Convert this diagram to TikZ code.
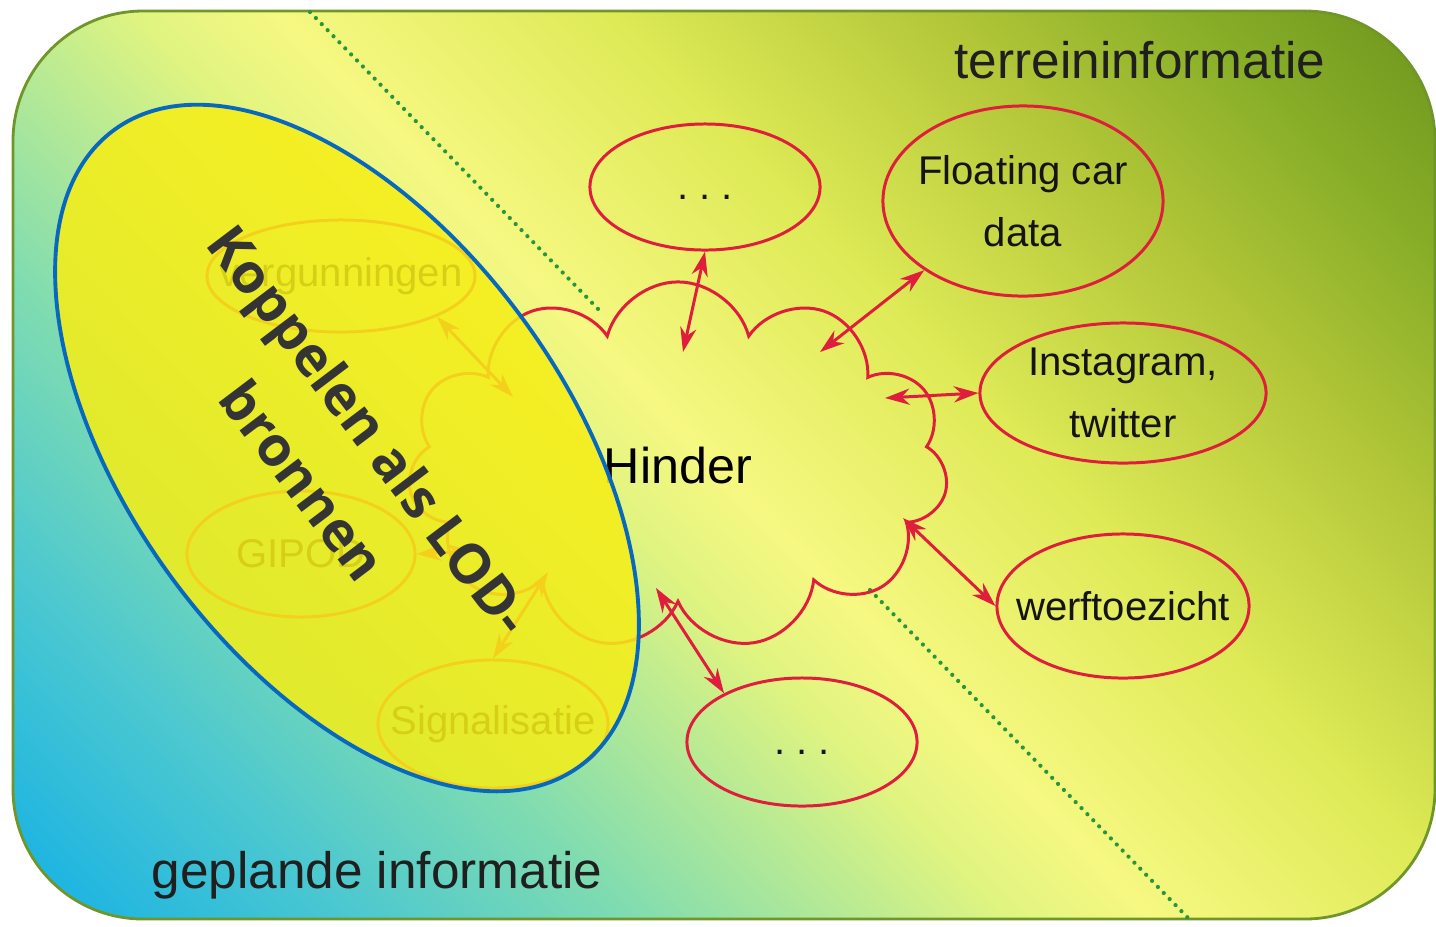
\documentclass[tikz,border=0pt]{standalone}
\usepackage{fontspec}
\setmainfont{Liberation Sans}
\newfontfamily\lodfont{Open Sans}
\usetikzlibrary{shapes.geometric,shapes.symbols,arrows.meta}

\definecolor{hinderred}{RGB}{222,30,60}
\definecolor{framegreen}{RGB}{112,150,42}
\definecolor{dotgreen}{RGB}{40,150,62}
\definecolor{lodyellow}{RGB}{246,238,22}
\definecolor{lodblue}{RGB}{8,104,190}
\definecolor{lodtext}{RGB}{52,52,52}
\definecolor{bgA}{RGB}{18,176,230}
\definecolor{bgB}{RGB}{76,200,208}
\definecolor{bgC}{RGB}{128,220,176}
\definecolor{bgD}{RGB}{224,244,128}
\definecolor{bgE}{RGB}{246,248,130}
\definecolor{bgF}{RGB}{222,234,86}
\definecolor{bgG}{RGB}{178,198,56}
\definecolor{bgH}{RGB}{136,174,40}
\definecolor{bgI}{RGB}{108,148,28}

\pgfdeclarehorizontalshading{bgfade}{100bp}{color(0bp)=(bgA); color(25.5bp)=(bgA); color(32.9bp)=(bgB); color(38.8bp)=(bgC); color(46.8bp)=(bgD); color(49.8bp)=(bgE); color(56.9bp)=(bgF); color(64bp)=(bgG); color(69.3bp)=(bgH); color(74.6bp)=(bgI); color(100bp)=(bgI)}

\tikzstyle{panel}=[draw=framegreen,line width=0.8pt,rounded corners=1.3cm]
\tikzstyle{divider}=[draw=dotgreen,line width=1.2pt,line cap=round,dash pattern=on 0pt off 2.4pt]
\tikzstyle{hindercloud}=[cloud,cloud puffs=11,aspect=1.45,draw=hinderred,line width=0.85pt,minimum width=5.4cm,minimum height=3.68cm,font=\fontsize{14.3}{17}\selectfont]
\tikzstyle{bron}=[ellipse,draw=hinderred,line width=0.85pt,inner xsep=-0.3cm,inner ysep=0pt,align=center,text=black!92,font=\fontsize{11.4}{17.6}\selectfont]
\tikzstyle{link}=[draw,line width=0.85pt,hinderred,{Stealth[length=7pt,width=4.6pt]}-{Stealth[length=7pt,width=4.6pt]}]
\tikzstyle{zone}=[anchor=base,text=black!88,font=\fontsize{14.6}{17}\selectfont]
\tikzstyle{lod}=[ellipse,draw=lodblue,line width=1.1pt,fill=lodyellow,fill opacity=0.86,minimum width=7.88cm,minimum height=4.36cm,rotate=-53.8]
\tikzstyle{lodlabel}=[rotate=-52.9,align=center,text=lodtext,font=\lodfont\bfseries\fontsize{15.6}{23.9}\selectfont]

\begin{document}
\begin{tikzpicture}[x=0.01cm,y=-0.01cm]
		\useasboundingbox (0,0) rectangle (1436,926);
		% background panel
		\begin{scope}
			\clip[rounded corners=1.3cm] (13,11) rectangle (1435,919);
			\begin{scope}[transform canvas={rotate around={44:(723,465)}}]
				\shade[shading=bgfade] (-121,-435) rectangle (1567,1365);
			\end{scope}
		\end{scope}
		\path[panel] (13,11) rectangle (1435,919);
		\path[divider] (310,12) -- (600,311);
		\path[divider] (870,590) -- (1190,920);
		% the cloud and its sources
		\node[hindercloud] (h) at (678,466) {Hinder};
		\node[bron,minimum width=2.30cm,minimum height=1.26cm] (dt) at (705,187) {.\ .\ .\strut};
		\node[bron,minimum width=2.80cm,minimum height=1.90cm] (fcd) at (1023,201) {Floating car\\data};
		\node[bron,minimum width=2.86cm,minimum height=1.40cm] (insta) at (1123,393) {Instagram,\\twitter};
		\node[bron,minimum width=2.52cm,minimum height=1.44cm] (werf) at (1123,606) {werftoezicht};
		\node[bron,minimum width=2.30cm,minimum height=1.28cm] (db) at (802,742) {.\ .\ .\strut};
		\node[bron,minimum width=2.68cm,minimum height=1.12cm] (verg) at (341,276) {vergunningen};
		\node[bron,minimum width=2.28cm,minimum height=1.26cm] (gipod) at (301,554) {GIPOD};
		\node[bron,minimum width=2.30cm,minimum height=1.28cm] (sign) at (493,724) {Signalisatie};
		% arrow ends inside the cloud
		\coordinate (h1) at (683,352);
		\coordinate (h2) at (820,352);
		\coordinate (h3) at (885,398);
		\coordinate (h4) at (903,518);
		\coordinate (h5) at (656,588);
		\coordinate (h6) at (513,397);
		\coordinate (h7) at (472,551);
		\coordinate (h8) at (548,572);
		\foreach \source/\dest in {h1/dt.south, h2/fcd.215, h3/insta.west, h4/werf.west, h5/db.148, h6/verg.-23, h7/gipod.east, h8/sign.north}
		\path[link] (\source) -- (\dest);
		% zone titles
		\node[zone] (terrein) at (1140,78) {terreininformatie};
		\node[zone] (gepland) at (377,888) {geplande informatie};
		% LOD overlay
		\node[lod] (lod) at (347,448) {};
		\node[lodlabel] (koppel) at (337,455) {Koppelen als LOD-\\bronnen};
\end{tikzpicture}
\end{document}
